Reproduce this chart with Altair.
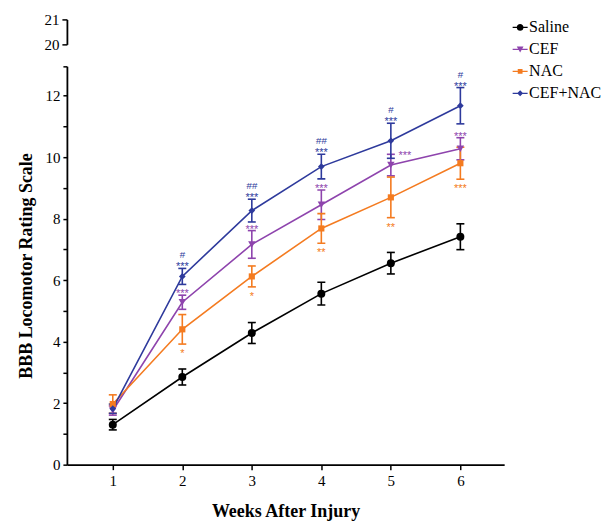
import altair as alt
import pandas as pd

groups = ["Saline", "CEF", "NAC", "CEF+NAC"]
colors = ["#000000", "#8E44AD", "#F47B20", "#2E3A9C"]
weeks = [1, 2, 3, 4, 5, 6]

saline_mean = [1.30, 2.85, 4.28, 5.56, 6.55, 7.41]
saline_err = [0.17, 0.26, 0.34, 0.37, 0.35, 0.42]
cef_mean = [1.76, 5.28, 7.16, 8.45, 9.74, 10.27]
cef_err = [0.15, 0.23, 0.45, 0.48, 0.35, 0.36]
nac_mean = [1.97, 4.40, 6.12, 7.68, 8.69, 9.80]
nac_err = [0.30, 0.48, 0.34, 0.48, 0.66, 0.52]
combo_mean = [1.82, 6.12, 8.26, 9.69, 10.53, 11.67]
combo_err = [0.15, 0.26, 0.37, 0.40, 0.57, 0.59]

top_ticks = [20, 21]

# significance annotations
ann_group = (["CEF+NAC"] * 5 + ["CEF+NAC"] * 5 + ["CEF"] * 4 + ["CEF"] + ["NAC"] * 5)
ann_week = ([2, 3, 4, 5, 6] + [2, 3, 4, 5, 6] + [2, 3, 4, 6] + [5] + [2, 3, 4, 5, 6])
ann_text = (["***"] * 5 + ["#", "##", "##", "#", "#"] + ["***"] * 4 + ["***"]
            + ["*", "*", "**", "**", "***"])
ann_kind = (["above"] * 5 + ["hash"] * 5 + ["above"] * 4 + ["right"] + ["below"] * 5)

means = {"Saline": saline_mean, "CEF": cef_mean, "NAC": nac_mean, "CEF+NAC": combo_mean}
errs = {"Saline": saline_err, "CEF": cef_err, "NAC": nac_err, "CEF+NAC": combo_err}
color_of = dict(zip(groups, colors))
point_shapes = {"Saline": "circle", "CEF": "triangle-down", "NAC": "square", "CEF+NAC": "diamond"}
point_sizes = {"Saline": 64, "CEF": 55, "NAC": 38, "CEF+NAC": 45}
legend_paths = [
    "M-1,-0.08H1V0.08H-1Z M0.45,0A0.45,0.45,0,1,1,-0.45,0A0.45,0.45,0,1,1,0.45,0Z",
    "M-1,-0.08H1V0.08H-1Z M-0.45,-0.37L0.45,-0.37L0,0.42Z",
    "M-1,-0.08H1V0.08H-1Z M-0.32,-0.32H0.32V0.32H-0.32Z",
    "M-1,-0.08H1V0.08H-1Z M0,-0.4L0.4,0L0,0.4L-0.4,0Z",
]

rows = []
for g in groups:
    for w, m, e in zip(weeks, means[g], errs[g]):
        rows.append({"group": g, "week": w, "mean": m, "lo": m - e, "hi": m + e})
df = pd.DataFrame(rows)

ann_rows = []
for g, w, t, k in zip(ann_group, ann_week, ann_text, ann_kind):
    i = weeks.index(w)
    m, e = means[g][i], errs[g][i]
    ann_rows.append({"group": g, "week": w, "text": t, "kind": k,
                     "y": (m - e) if k == "below" else (m + e)})
ann = pd.DataFrame(ann_rows)

FONT = "Liberation Serif"
x_scale = alt.Scale(domain=[0.34, 6.63], nice=False, zero=False)
y_scale = alt.Scale(domain=[0, 12.95], nice=False, zero=False)

x_axis = alt.Axis(values=weeks, title="Weeks After Injury", grid=False, tickSize=5,
                  labelFontSize=15, labelFont=FONT, titleFont=FONT, titleFontSize=18,
                  titleFontWeight="bold", titlePadding=14, labelPadding=4, format="d",
                  domainColor="black", tickColor="black", domainWidth=1.8, tickWidth=1.5,
                  labelColor="black", titleColor="black")
y_axis = alt.Axis(values=list(range(0, 13)) + [12.95],
                  labelExpr="(datum.value % 2 == 0) ? datum.label : ''",
                  title="BBB Locomotor Rating Scale", grid=False, tickSize=4,
                  labelFontSize=15, labelFont=FONT, titleFont=FONT, titleFontSize=18,
                  titleFontWeight="bold", titlePadding=7, labelPadding=3, minExtent=24,
                  domainColor="black", tickColor="black", domainWidth=1.8, tickWidth=1.5,
                  labelColor="black", titleColor="black")


def X():
    return alt.X("week:Q", scale=x_scale, axis=x_axis, title="Weeks After Injury")


def Y(field):
    return alt.Y(f"{field}:Q", scale=y_scale, axis=y_axis, title="BBB Locomotor Rating Scale")


base = alt.Chart(df)
abase = alt.Chart(ann)
layers = []
for g in groups:
    c = color_of[g]
    gb = base.transform_filter(alt.datum.group == g)
    layers.append(gb.mark_line(strokeWidth=1.6, color=c).encode(x=X(), y=Y("mean")))
for g in groups:
    c = color_of[g]
    gb = base.transform_filter(alt.datum.group == g)
    layers.append(gb.mark_rule(strokeWidth=1.6, color=c).encode(x=X(), y=Y("lo"), y2="hi:Q"))
    layers.append(gb.mark_tick(orient="horizontal", size=8, thickness=1.6, opacity=1, color=c)
                  .encode(x=X(), y=Y("hi")))
    layers.append(gb.mark_tick(orient="horizontal", size=8, thickness=1.6, opacity=1, color=c)
                  .encode(x=X(), y=Y("lo")))
for g in groups:
    c = color_of[g]
    gb = base.transform_filter(alt.datum.group == g)
    layers.append(gb.mark_point(filled=True, shape=point_shapes[g], size=point_sizes[g],
                                opacity=1, color=c).encode(x=X(), y=Y("mean")))

text_style = {
    "above": dict(font="Liberation Sans", fontSize=11, baseline="alphabetic", dy=2),
    "hash": dict(font="Liberation Sans", fontSize=10, fontStyle="italic",
                 baseline="alphabetic", dy=-10),
    "below": dict(font="Liberation Sans", fontSize=11, baseline="alphabetic", dy=13),
    "right": dict(font="Liberation Sans", fontSize=11, baseline="alphabetic", dy=5, dx=14),
}
for g in groups:
    for k, st in text_style.items():
        sub = ann[(ann.group == g) & (ann.kind == k)]
        if len(sub) == 0:
            continue
        layers.append(
            abase.transform_filter((alt.datum.group == g) & (alt.datum.kind == k))
            .mark_text(color=color_of[g], **st)
            .encode(x=X(), y=Y("y"), text="text:N")
        )

legend_kw = dict(title=None, orient="right", labelFont=FONT, labelFontSize=16,
                 labelColor="black", symbolSize=225, symbolStrokeWidth=0,
                 rowPadding=6, labelOffset=1, offset=8, padding=0)
legend_layer = base.transform_filter("false").mark_point(filled=True, opacity=1).encode(
    x=X(), y=Y("mean"),
    color=alt.Color("group:N", scale=alt.Scale(domain=groups, range=colors),
                    legend=alt.Legend(**legend_kw)),
    shape=alt.Shape("group:N", scale=alt.Scale(domain=groups, range=legend_paths),
                    legend=alt.Legend(**legend_kw)),
)
layers.append(legend_layer)

main = alt.layer(*layers).properties(width=438, height=399)

top = alt.Chart(pd.DataFrame({"v": top_ticks})).mark_point(opacity=0).encode(
    y=alt.Y("v:Q", scale=alt.Scale(domain=[20, 21], nice=False, zero=False),
            axis=alt.Axis(values=top_ticks, format="d", title=" ", grid=False, tickSize=5,
                          labelFontSize=15, labelFont=FONT, titleFont=FONT, titleFontSize=18,
                          titleFontWeight="bold", titlePadding=7, labelPadding=3, minExtent=24,
                          domainColor="black", tickColor="black", domainWidth=1.8,
                          tickWidth=1.5, labelColor="black"))
).properties(width=438, height=25)

chart = alt.vconcat(top, main, spacing=13).properties(
    padding={"left": 10, "top": 4, "right": 0, "bottom": 0}
).configure_view(stroke=None)

chart.save("out.html", embed_options={"renderer": "svg", "actions": False})
